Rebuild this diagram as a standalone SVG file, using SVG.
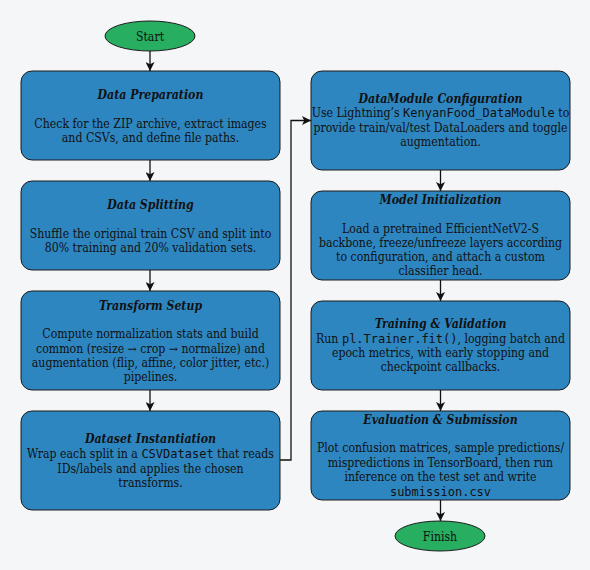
<svg xmlns="http://www.w3.org/2000/svg" width="590" height="570" viewBox="0 0 590 570">
<defs>
<marker id="arr" viewBox="0 0 10 10" refX="10" refY="5" markerWidth="9" markerHeight="9" markerUnits="userSpaceOnUse" orient="auto"><path d="M0,0 L10,5 L0,10 L2.5,5 z" fill="#111"/></marker>
<style>
.box{fill:#2e86c1;stroke:#1a1a1a;stroke-width:1}
.term{fill:#27ae60;stroke:#1a1a1a;stroke-width:1}
text{font-family:"DejaVu Serif Condensed","DejaVu Serif","Liberation Serif",serif;font-stretch:condensed;font-size:12.2px;fill:#111;text-anchor:middle}
.t{font-weight:bold;font-style:italic}
.m{font-family:"DejaVu Sans Mono","Liberation Mono",monospace;font-stretch:normal;font-size:12px}
.c{fill:none;stroke:#111;stroke-width:1.3}
</style>
</defs>
<rect width="590" height="570" fill="#f4f6f8"/>
<g id="connectors">
<path class="c" d="M150,51 V71" marker-end="url(#arr)"/>
<path class="c" d="M150,160 V181" marker-end="url(#arr)"/>
<path class="c" d="M150,270 V291" marker-end="url(#arr)"/>
<path class="c" d="M150,390 V411" marker-end="url(#arr)"/>
<path class="c" d="M280,460 H291 V120.5 H311" marker-end="url(#arr)"/>
<path class="c" d="M440.5,170 V191" marker-end="url(#arr)"/>
<path class="c" d="M440.5,280 V301" marker-end="url(#arr)"/>
<path class="c" d="M440.5,390 V411" marker-end="url(#arr)"/>
<path class="c" d="M440.5,500 V521" marker-end="url(#arr)"/>
</g>
<g id="start">
<ellipse class="term" cx="150" cy="36" rx="45" ry="15"/>
<text x="150" y="40.5">Start</text>
</g>
<g id="data-preparation">
<rect class="box" x="21" y="71" width="259" height="89" rx="11"/>
<text class="t" x="150.5" y="99">Data Preparation</text>
<text x="150.5" y="128">Check for the ZIP archive, extract images</text>
<text x="150.5" y="141.7">and CSVs, and define file paths.</text>
</g>
<g id="data-splitting">
<rect class="box" x="21" y="181" width="259" height="89" rx="11"/>
<text class="t" x="150.5" y="209">Data Splitting</text>
<text x="150.5" y="238">Shuffle the original train CSV and split into</text>
<text x="150.5" y="251.7">80% training and 20% validation sets.</text>
</g>
<g id="transform-setup">
<rect class="box" x="21" y="291" width="259" height="99" rx="11"/>
<text class="t" x="150.5" y="310">Transform Setup</text>
<text x="150.5" y="338.3">Compute normalization stats and build</text>
<text x="150.5" y="352.5">common (resize → crop → normalize) and</text>
<text x="150.5" y="366.5">augmentation (flip, affine, color jitter, etc.)</text>
<text x="150.5" y="380.7">pipelines.</text>
</g>
<g id="dataset-instantiation">
<rect class="box" x="21" y="411" width="259" height="99" rx="11"/>
<text class="t" x="150.5" y="443.3">Dataset Instantiation</text>
<text x="150.5" y="457.7">Wrap each split in a <tspan class="m">CSVDataset</tspan> that reads</text>
<text x="150.5" y="472.5">IDs/labels and applies the chosen</text>
<text x="150.5" y="486.5">transforms.</text>
</g>
<g id="datamodule-configuration">
<rect class="box" x="311" y="71" width="259" height="99" rx="11"/>
<text class="t" x="440.5" y="103.3">DataModule Configuration</text>
<text x="440.5" y="117.3">Use Lightning’s <tspan class="m">KenyanFood_DataModule</tspan> to</text>
<text x="440.5" y="132.3">provide train/val/test DataLoaders and toggle</text>
<text x="440.5" y="146">augmentation.</text>
</g>
<g id="model-initialization">
<rect class="box" x="311" y="191" width="259" height="89" rx="11"/>
<text class="t" x="440.5" y="204.3">Model Initialization</text>
<text x="440.5" y="232.7">Load a pretrained EfficientNetV2-S</text>
<text x="440.5" y="246.7">backbone, freeze/unfreeze layers according</text>
<text x="440.5" y="261">to configuration, and attach a custom</text>
<text x="440.5" y="275">classifier head.</text>
</g>
<g id="training-validation">
<rect class="box" x="311" y="301" width="259" height="89" rx="11"/>
<text class="t" x="440.5" y="328.3">Training &amp; Validation</text>
<text x="440.5" y="342.7">Run <tspan class="m">pl.Trainer.fit()</tspan>, logging batch and</text>
<text x="440.5" y="356.7">epoch metrics, with early stopping and</text>
<text x="440.5" y="371">checkpoint callbacks.</text>
</g>
<g id="evaluation-submission">
<rect class="box" x="311" y="411" width="259" height="89" rx="11"/>
<text class="t" x="440.5" y="424">Evaluation &amp; Submission</text>
<text x="440.5" y="452.3">Plot confusion matrices, sample predictions/</text>
<text x="440.5" y="466.7">mispredictions in TensorBoard, then run</text>
<text x="440.5" y="481">inference on the test set and write</text>
<text x="440.5" y="495.7" class="m">submission.csv</text>
</g>
<g id="finish">
<ellipse class="term" cx="440" cy="536" rx="45" ry="15"/>
<text x="440" y="540.7">Finish</text>
</g>
</svg>
